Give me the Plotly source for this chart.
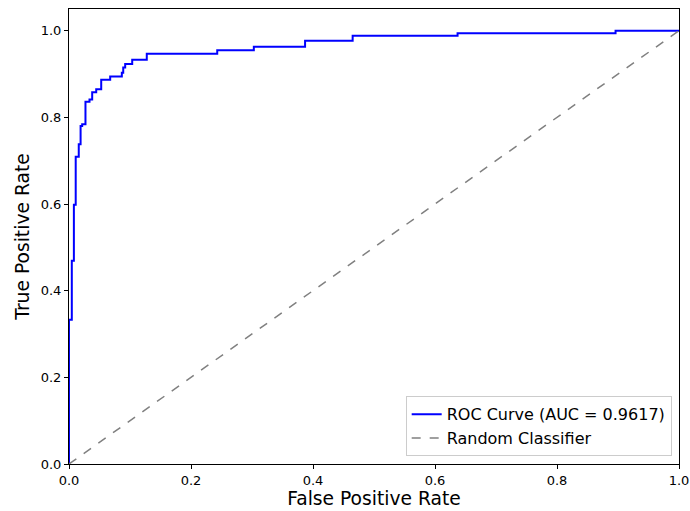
import plotly.graph_objects as go

# ROC curve vertices (false positive rate, true positive rate)
fpr = [0.0, 0.0, 0.0046, 0.0046, 0.008, 0.008, 0.011, 0.011, 0.016, 0.016,
       0.019, 0.019, 0.0216, 0.0216, 0.027, 0.027, 0.0336, 0.0336, 0.038, 0.038,
       0.0446, 0.0446, 0.0528, 0.0528, 0.0675, 0.0675, 0.0866, 0.0866, 0.0889, 0.0889,
       0.0921, 0.0921, 0.1036, 0.1036, 0.1275, 0.1275, 0.243, 0.243, 0.303, 0.303,
       0.387, 0.387, 0.465, 0.465, 0.637, 0.637, 0.896, 0.896, 1.0]
tpr = [0.0, 0.333, 0.333, 0.469, 0.469, 0.598, 0.598, 0.709, 0.709, 0.738,
       0.738, 0.78, 0.78, 0.784, 0.784, 0.836, 0.836, 0.841, 0.841, 0.858,
       0.858, 0.865, 0.865, 0.887, 0.887, 0.894, 0.894, 0.903, 0.903, 0.915,
       0.915, 0.923, 0.923, 0.933, 0.933, 0.947, 0.947, 0.955, 0.955, 0.963,
       0.963, 0.977, 0.977, 0.988, 0.988, 0.994, 0.994, 1.0, 1.0]
auc_value = 0.9617
diag_x = [0, 1]
diag_y = [0, 1]

fig = go.Figure()
fig.add_trace(go.Scatter(x=fpr, y=tpr, mode="lines",
                         line=dict(color="blue", width=2),
                         name=f"ROC Curve (AUC = {auc_value:.4f})"))
fig.add_trace(go.Scatter(x=diag_x, y=diag_y, mode="lines",
                         line=dict(color="gray", width=1.5, dash="dash"),
                         name="Random Classifier"))

font = "DejaVu Sans, sans-serif"
axis_common = dict(showline=True, mirror=True, linecolor="black", linewidth=1,
                   ticks="outside", ticklen=4, tickcolor="black", tickwidth=1,
                   showgrid=False, zeroline=False, tickformat=".1f",
                   tickfont=dict(family=font, size=13, color="black"),
                   dtick=0.2, automargin=False)

fig.update_layout(
    width=690, height=511,
    margin=dict(l=69, r=11, t=9, b=47),
    paper_bgcolor="white", plot_bgcolor="white",
    font=dict(family=font, color="black"),
    xaxis=dict(range=[0, 1], title=dict(text="False Positive Rate",
               font=dict(family=font, size=18.7), standoff=4), **axis_common),
    yaxis=dict(range=[0, 1.05], title=dict(text="True Positive Rate",
               font=dict(family=font, size=18.7), standoff=6), **axis_common),
    legend=dict(x=0.988, y=0.017, xanchor="right", yanchor="bottom",
                bgcolor="rgba(255,255,255,0.8)", bordercolor="#cccccc", borderwidth=1,
                font=dict(family=font, size=16), tracegroupgap=0),
    showlegend=True,
)

fig.write_html("out.html")
